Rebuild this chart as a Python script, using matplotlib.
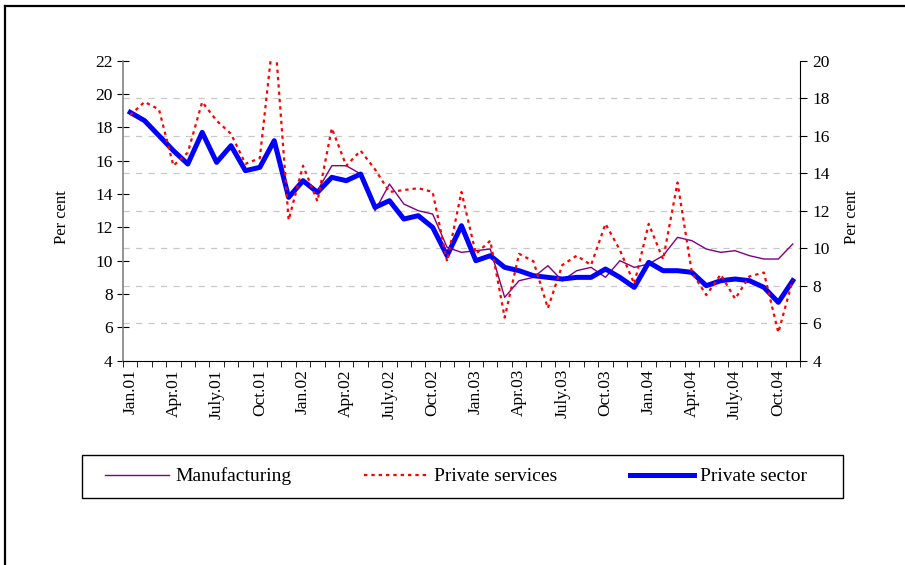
import numpy as np
import matplotlib
matplotlib.use("Agg")
import matplotlib.pyplot as plt
from matplotlib.lines import Line2D
from matplotlib.patches import Rectangle
from matplotlib.ticker import FixedLocator

plt.rcParams['font.family'] = 'Liberation Serif'

# Monthly series, Jan 2001 - Nov 2004
tick_labels = ['Jan.01', 'Apr.01', 'July.01', 'Oct.01',
               'Jan.02', 'Apr.02', 'July.02', 'Oct.02',
               'Jan.03', 'Apr.03', 'July.03', 'Oct.03',
               'Jan.04', 'Apr.04', 'July.04', 'Oct.04']

# left axis
manufacturing = [18.9, 18.4, 17.5, 16.6, 15.8, 17.7, 15.9, 16.9, 15.4, 15.6, 17.2, 13.8,
                 14.8, 14.2, 15.7, 15.7, 15.2, 13.0, 14.6, 13.4, 13.0, 12.8, 10.8, 10.5,
                 10.6, 10.7, 7.8, 8.8, 9.0, 9.7, 8.8, 9.4, 9.6, 9.0, 10.0, 9.6,
                 9.8, 10.3, 11.4, 11.2, 10.7, 10.5, 10.6, 10.3, 10.1, 10.1, 11.0]
private_sector = [18.9, 18.4, 17.5, 16.6, 15.8, 17.7, 15.9, 16.9, 15.4, 15.6, 17.2, 13.8,
                  14.8, 14.1, 15.0, 14.8, 15.2, 13.2, 13.6, 12.5, 12.7, 12.0, 10.3, 12.1,
                  10.0, 10.3, 9.6, 9.4, 9.1, 9.0, 8.9, 9.0, 9.0, 9.5, 9.0, 8.4,
                  9.9, 9.4, 9.4, 9.3, 8.5, 8.8, 8.9, 8.8, 8.4, 7.5, 8.8]
# right axis
private_services = [17.1, 17.8, 17.4, 14.4, 15.1, 17.8, 16.8, 16.1, 14.5, 14.8, 21.8, 11.5,
                    14.4, 12.5, 16.4, 14.4, 15.2, 14.2, 13.0, 13.1, 13.2, 13.0, 9.3, 13.0,
                    9.7, 10.4, 6.3, 9.7, 9.3, 6.8, 9.1, 9.6, 9.1, 11.3, 9.9, 8.1,
                    11.3, 9.4, 13.5, 8.7, 7.5, 8.6, 7.3, 8.5, 8.7, 5.5, 8.3]

left_lim = (4, 22)
right_lim = (4, 20)

fig = plt.figure(figsize=(9.05, 5.65), dpi=100)
ax = fig.add_axes([0.1359, 0.3616, 0.748, 0.531])
ax2 = ax.twinx()

x = np.arange(len(private_sector))
l_man, = ax.plot(x, manufacturing, color='#800080', lw=1.0, zorder=2, label='Manufacturing')
l_sec, = ax.plot(x, private_sector, color='#0000ff', lw=3.6, zorder=3,
                 solid_joinstyle='round', label='Private sector')
l_ser, = ax2.plot(x, private_services, color='#ff0000', lw=1.6,
                  linestyle=(0, (1.5, 1.8)), label='Private services')

ax.set_xlim(-0.5, len(x) - 0.5)
ax.set_ylim(*left_lim)
ax2.set_ylim(*right_lim)
ax.set_yticks(np.arange(4, 23, 2))
ax2.set_yticks(np.arange(4, 21, 2))

# gridlines follow the right-hand scale, drawn on the left axes
right_ticks = np.arange(4, 21, 2)
grid_pos = left_lim[0] + (right_ticks - right_lim[0]) * (left_lim[1] - left_lim[0]) / (right_lim[1] - right_lim[0])
ax.yaxis.set_minor_locator(FixedLocator(grid_pos))
ax.grid(axis='y', which='minor', color='#c8c8c8', linestyle=(0, (5, 5)), lw=0.9)
ax.set_axisbelow(True)

# category axis: ticks between months, labels every quarter
ax.set_xticks(np.arange(0, len(x), 3))
ax.set_xticklabels(tick_labels, rotation=90, fontsize=12.5)
ax.xaxis.set_minor_locator(FixedLocator(np.arange(-0.5, len(x), 1)))
ax.tick_params(axis='x', which='major', length=0, pad=6)
ax.tick_params(axis='x', which='minor', length=4, direction='out', color='black')
ax.tick_params(axis='y', which='major', direction='inout', length=9, labelsize=12.5, pad=3)
ax.tick_params(axis='y', which='minor', length=0)
ax2.tick_params(axis='y', direction='out', length=5, labelsize=12.5, pad=4)

ax.spines['top'].set_visible(False)
ax.spines['right'].set_visible(False)
ax.spines['left'].set_color('#808080')
ax.spines['left'].set_linewidth(1.2)
ax2.spines['top'].set_visible(False)
ax2.spines['left'].set_visible(False)
ax2.spines['bottom'].set_visible(False)

fig.text(62 / 905, 1 - 217 / 565, 'Per cent', rotation=90, ha='center', va='center', fontsize=12)
fig.text(852 / 905, 1 - 217 / 565, 'Per cent', rotation=90, ha='center', va='center', fontsize=12)

# outer frame (top and left edges)
fig.add_artist(Line2D([0.0055, 0.0055], [0, 0.9894], transform=fig.transFigure, color='black', lw=1.6))
fig.add_artist(Line2D([0.0055, 1], [0.9894, 0.9894], transform=fig.transFigure, color='black', lw=1.6))

# legend box below the chart
box = (0.0906, 0.1186, 0.8409, 0.0761)
fig.add_artist(Rectangle(box[:2], box[2], box[3], transform=fig.transFigure,
                         fill=False, edgecolor='black', lw=1))
fig.legend(handles=[l_man, l_ser, l_sec], loc='center',
           bbox_to_anchor=(105 / 905, box[1], (807 - 105) / 905, box[3]),
           mode='expand', borderaxespad=0, borderpad=0,
           ncol=3, frameon=False, fontsize=14, handlelength=3.3,
           handletextpad=0.3)

fig.savefig('out.png', dpi=100)
